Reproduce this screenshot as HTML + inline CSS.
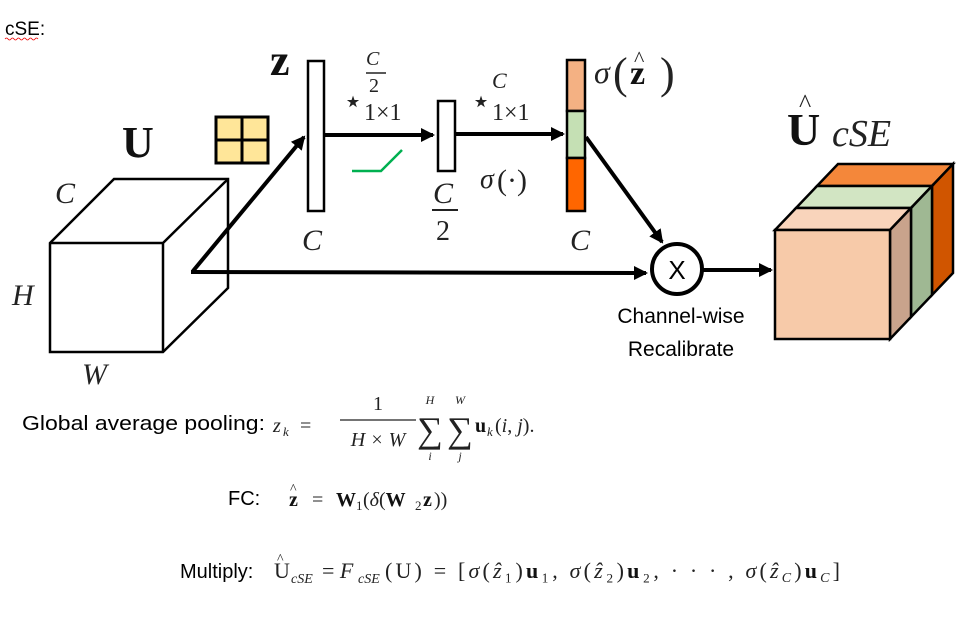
<!DOCTYPE html>
<html><head><meta charset="utf-8"><style>
html,body{margin:0;padding:0;background:#fff;}
svg{display:block}
.m{font-family:"Liberation Serif",serif;font-style:italic;fill:#222}
.r{font-family:"Liberation Serif",serif;fill:#222}
.b{font-family:"Liberation Serif",serif;font-weight:bold;fill:#111}
.s{font-family:"Liberation Sans",sans-serif;fill:#000}
</style></head><body>
<svg width="960" height="623" viewBox="0 0 960 623" xmlns="http://www.w3.org/2000/svg">
<defs>
<marker id="ah2" markerWidth="14" markerHeight="14" refX="12" refY="7" orient="auto" markerUnits="userSpaceOnUse" viewBox="0 0 14 14">
<path d="M0,0 L14,7 L0,14 z" fill="#000"/></marker>
</defs>
<text x="5" y="35" class="s" font-size="19">cSE:</text>
<path d="M5,39 q1.5,-2 3,0 t3,0 t3,0 t3,0 t3,0 t3,0 t3,0 t3,0 t3,0 t3,0 t3,0" stroke="#e00" stroke-width="0.8" fill="none"/>

<!-- left cube -->
<g stroke="#000" stroke-width="2.5" fill="#fff" stroke-linejoin="miter">
<path d="M50,243 L114,179 L228,179 L228,288 L163,352 L50,352 Z"/>
<path d="M50,243 L163,243 L228,179 M163,243 L163,352"/>
</g>
<text x="55" y="203" class="m" font-size="30">C</text>
<text x="12" y="305" class="m" font-size="30">H</text>
<text x="82" y="384" class="m" font-size="30">W</text>
<text x="122" y="157" class="b" font-size="44">U</text>
<rect x="216" y="117" width="52" height="46" fill="#ffe699" stroke="#000" stroke-width="3"/>
<line x1="242" y1="117" x2="242" y2="163" stroke="#000" stroke-width="3"/>
<line x1="216" y1="140" x2="268" y2="140" stroke="#000" stroke-width="3"/>

<polyline points="193,271 304,137" fill="none" stroke="#000" stroke-width="4" marker-end="url(#ah2)"/>
<line x1="191" y1="272" x2="646" y2="273" stroke="#000" stroke-width="4" marker-end="url(#ah2)"/>

<rect x="308" y="61" width="16" height="150" fill="#fff" stroke="#000" stroke-width="2.5"/>
<text x="270" y="75" class="b" font-size="44">z</text>
<text x="302" y="250" class="m" font-size="30">C</text>
<line x1="325" y1="135" x2="433" y2="135" stroke="#000" stroke-width="4" marker-end="url(#ah2)"/>
<text x="366" y="65" class="m" font-size="20">C</text>
<line x1="366" y1="73" x2="386" y2="73" stroke="#222" stroke-width="1.5"/>
<text x="369" y="92" class="r" font-size="20">2</text>
<text x="343" y="112" class="r" font-size="32">⋆</text>
<text x="364" y="120" class="r" font-size="24">1×1</text>
<polyline points="352,171 381,171 402,150" fill="none" stroke="#00b050" stroke-width="2.5"/>

<rect x="438" y="101" width="17" height="70" fill="#fff" stroke="#000" stroke-width="2.5"/>
<text x="433" y="203" class="m" font-size="30">C</text>
<line x1="432" y1="210" x2="458" y2="210" stroke="#222" stroke-width="2"/>
<text x="436" y="240" class="r" font-size="28">2</text>
<line x1="456" y1="134" x2="563" y2="134" stroke="#000" stroke-width="4" marker-end="url(#ah2)"/>
<text x="471" y="112" class="r" font-size="32">⋆</text>
<text x="492" y="88" class="m" font-size="22">C</text>
<text x="492" y="120" class="r" font-size="24">1×1</text>
<text x="480" y="188" class="m" font-size="28">σ</text>
<text x="497" y="190" class="r" font-size="30">(·)</text>

<rect x="567" y="60" width="18" height="51" fill="#f4b183" stroke="#000" stroke-width="2.5"/>
<rect x="567" y="111" width="18" height="47" fill="#c5e0b4" stroke="#000" stroke-width="2.5"/>
<rect x="567" y="158" width="18" height="53" fill="#ff6600" stroke="#000" stroke-width="2.5"/>
<text x="570" y="250" class="m" font-size="30">C</text>
<text x="594" y="83" class="m" font-size="32">σ</text>
<text x="613" y="88" class="r" font-size="44">(</text>
<text x="630" y="84" class="b" font-size="34">z</text>
<text x="634" y="66" class="r" font-size="22">^</text>
<text x="660" y="88" class="r" font-size="44">)</text>

<line x1="586" y1="137" x2="662" y2="242" stroke="#000" stroke-width="4" marker-end="url(#ah2)"/>
<circle cx="677" cy="269" r="25" fill="#fff" stroke="#000" stroke-width="4"/>
<text x="677" y="279" class="s" font-size="26" text-anchor="middle">X</text>
<line x1="703" y1="270" x2="771" y2="270" stroke="#000" stroke-width="4" marker-end="url(#ah2)"/>
<text x="681" y="323" class="s" font-size="21" text-anchor="middle">Channel-wise</text>
<text x="681" y="356" class="s" font-size="21" text-anchor="middle">Recalibrate</text>

<g stroke="#000" stroke-width="2.5" stroke-linejoin="miter">
<path d="M817,186 L838,164 L953,164 L932,186 Z" fill="#f4873a"/>
<path d="M932,186 L953,164 L953,273 L932,295 Z" fill="#d05500"/>
<path d="M796,208 L817,186 L932,186 L911,208 Z" fill="#d2e5c3"/>
<path d="M911,208 L932,186 L932,295 L911,317 Z" fill="#9fb893"/>
<path d="M775,230 L796,208 L911,208 L890,230 Z" fill="#f9d4bb"/>
<path d="M890,230 L911,208 L911,317 L890,339 Z" fill="#c9a38c"/>
<rect x="775" y="230" width="115" height="109" fill="#f7caa9"/>
</g>
<text x="787" y="145" class="b" font-size="46">U</text>
<text x="799" y="112" class="r" font-size="26">^</text>
<text x="832" y="146" class="m" font-size="38">cSE</text>

<!-- equations -->
<text x="22" y="430" class="s" font-size="20" textLength="243" lengthAdjust="spacingAndGlyphs">Global average pooling:</text>
<text x="273" y="432" class="m" font-size="20">z</text><text x="283" y="436" class="m" font-size="13">k</text>
<text x="300" y="432" class="r" font-size="20">=</text>
<text x="378" y="410" class="r" font-size="20" text-anchor="middle">1</text>
<line x1="340" y1="420" x2="416" y2="420" stroke="#222" stroke-width="1.3"/>
<text x="378" y="446" class="m" font-size="20" text-anchor="middle">H × W</text>
<text x="430" y="404" class="m" font-size="12" text-anchor="middle">H</text>
<text x="460" y="404" class="m" font-size="12" text-anchor="middle">W</text>
<text x="430" y="442" class="r" font-size="36" text-anchor="middle">∑</text>
<text x="460" y="442" class="r" font-size="36" text-anchor="middle">∑</text>
<text x="430" y="460" class="m" font-size="12" text-anchor="middle">i</text>
<text x="460" y="460" class="m" font-size="12" text-anchor="middle">j</text>
<text x="475" y="432" class="b" font-size="20">u</text><text x="487" y="436" class="m" font-size="13">k</text>
<text x="495" y="432" class="r" font-size="20">(<tspan class="m">i</tspan>, <tspan class="m">j</tspan>).</text>

<text x="228" y="505" class="s" font-size="20">FC:</text>
<text x="289" y="506" class="b" font-size="20">z</text><text x="290" y="493" class="r" font-size="14">^</text>
<text x="312" y="506" class="r" font-size="20">=</text>
<text x="336" y="506" class="b" font-size="20">W</text><text x="356" y="510" class="r" font-size="13">1</text>
<text x="363" y="506" class="r" font-size="20">(<tspan class="m">δ</tspan>(<tspan class="b">W</tspan></text>
<text x="415" y="510" class="r" font-size="13">2</text>
<text x="423" y="506" class="b" font-size="20">z</text><text x="434" y="506" class="r" font-size="20">))</text>

<text x="180" y="578" class="s" font-size="20">Multiply:</text>
<text x="274" y="578" class="r" font-size="22">U</text><text x="277" y="563" class="r" font-size="14">^</text>
<text x="291" y="583" class="m" font-size="14">cSE</text>
<text x="322" y="578" class="r" font-size="22">= <tspan class="m">F</tspan></text>
<text x="358" y="583" class="m" font-size="14">cSE</text>
<text x="385" y="578" class="r" font-size="22" textLength="455" lengthAdjust="spacing">(U) = [<tspan class="m">σ</tspan>(<tspan class="m">ẑ</tspan>₁)<tspan class="b">u</tspan>₁, <tspan class="m">σ</tspan>(<tspan class="m">ẑ</tspan>₂)<tspan class="b">u</tspan>₂, · · · , <tspan class="m">σ</tspan>(<tspan class="m">ẑ</tspan><tspan font-size="14" class="m" dy="4">C</tspan><tspan dy="-4">)</tspan><tspan class="b">u</tspan><tspan font-size="14" class="m" dy="4">C</tspan><tspan dy="-4">]</tspan></text>
</svg>
</body></html>
